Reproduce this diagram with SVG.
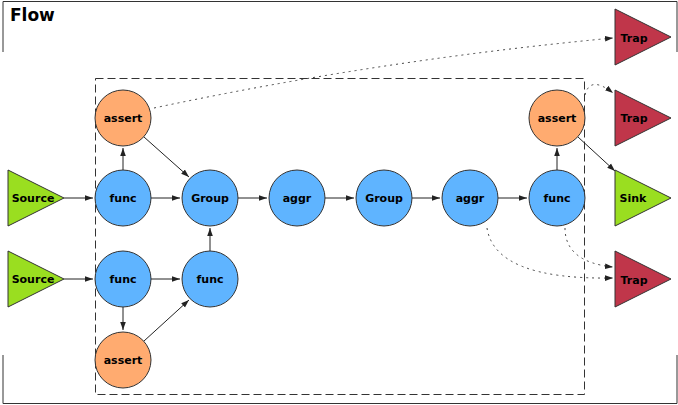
<svg xmlns="http://www.w3.org/2000/svg" width="678" height="405" viewBox="0 0 678 405">
<style>
text{font-family:"DejaVu Sans",sans-serif;font-weight:bold;font-size:11px;text-anchor:middle;dominant-baseline:central}
.b{fill:#5fb4ff;stroke:#333;stroke-width:1}
.o{fill:#ffab70;stroke:#333;stroke-width:1}
.r{fill:#c0364a;stroke:#333;stroke-width:1}
.g{fill:#9ade20;stroke:#333;stroke-width:1}
.e{stroke:#222;stroke-width:1;fill:none;marker-end:url(#a)}
.d{stroke:#444;stroke-width:1;fill:none;stroke-dasharray:2,4;marker-end:url(#a)}
</style>
<defs><marker id="a" viewBox="0 0 10 10" refX="10" refY="5" markerWidth="8" markerHeight="8" orient="auto" markerUnits="userSpaceOnUse"><path d="M0,1.5L10,5L0,8.5z" fill="#222"/></marker></defs>
<rect width="678" height="405" fill="#fff"/>
<g id="frame" fill="none" stroke="#333">
<path d="M3,52V1.5H677V52"/><path d="M3,355V403.5H677V355"/>
<rect x="95.5" y="78.5" width="489" height="316" stroke-dasharray="8,4"/>
</g>
<text x="10" y="15" style="font-size:17px;text-anchor:start">Flow</text>
<g id="connectors">
<path class="e" d="M64,198H93"/>
<path class="e" d="M151,198H180"/>
<path class="e" d="M238,198H267"/>
<path class="e" d="M325,198H354"/>
<path class="e" d="M412,198H440"/>
<path class="e" d="M498,198H527"/>
<path class="e" d="M123,170V148"/>
<path class="e" d="M557,170V148"/>
<path class="e" d="M144,137L189,177"/>
<path class="e" d="M578,137L615,171"/>
<path class="e" d="M64,279H93"/>
<path class="e" d="M151,279H180"/>
<path class="e" d="M210,251V228"/>
<path class="e" d="M123,307V330"/>
<path class="e" d="M144,341L189,300"/>
<path class="d" d="M154,108Q380,60 613,38"/>
<path class="d" d="M585,95Q590,75 613,93"/>
<path class="d" d="M487,228Q495,280 613,278"/>
<path class="d" d="M565,228Q565,262 613,267"/>
</g>
<g id="source1"><path class="g" d="M8,170L64,198L8,226z"/><text x="33" y="198">Source</text></g>
<g id="source2"><path class="g" d="M8,251L64,279L8,307z"/><text x="33" y="279">Source</text></g>
<g id="trap1"><path class="r" d="M615,9L671,37L615,65z"/><text x="634" y="38">Trap</text></g>
<g id="trap2"><path class="r" d="M615,90L671,118L615,146z"/><text x="634" y="118">Trap</text></g>
<g id="sink"><path class="g" d="M615,170L671,198L615,226z"/><text x="633" y="198">Sink</text></g>
<g id="trap3"><path class="r" d="M615,251L671,279L615,307z"/><text x="634" y="280">Trap</text></g>
<g id="func1"><circle class="b" cx="123" cy="198" r="28"/><text x="123" y="198">func</text></g>
<g id="group1"><circle class="b" cx="210" cy="198" r="28"/><text x="210" y="198">Group</text></g>
<g id="aggr1"><circle class="b" cx="297" cy="198" r="28"/><text x="297" y="198">aggr</text></g>
<g id="group2"><circle class="b" cx="384" cy="198" r="28"/><text x="384" y="198">Group</text></g>
<g id="aggr2"><circle class="b" cx="470" cy="198" r="28"/><text x="470" y="198">aggr</text></g>
<g id="func3"><circle class="b" cx="557" cy="198" r="28"/><text x="557" y="198">func</text></g>
<g id="assert1"><circle class="o" cx="123" cy="118" r="28"/><text x="123" y="118">assert</text></g>
<g id="assert2"><circle class="o" cx="557" cy="118" r="28"/><text x="557" y="118">assert</text></g>
<g id="func2"><circle class="b" cx="123" cy="279" r="28"/><text x="123" y="279">func</text></g>
<g id="func4"><circle class="b" cx="210" cy="279" r="28"/><text x="210" y="279">func</text></g>
<g id="assert3"><circle class="o" cx="123" cy="360" r="28"/><text x="123" y="360">assert</text></g>
</svg>
